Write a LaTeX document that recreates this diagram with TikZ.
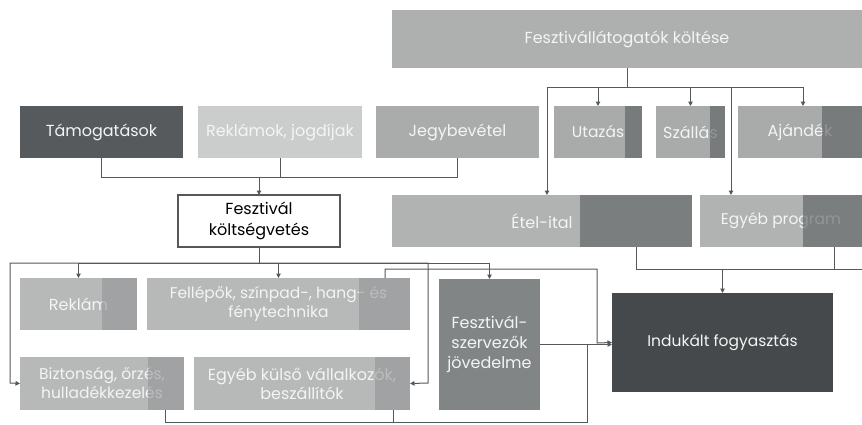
\documentclass[tikz,border=0pt]{standalone}
\usepackage{fontspec}
\setmainfont{Poppins}
\usetikzlibrary{arrows.meta}
\definecolor{cTam}{HTML}{565A5C}
\definecolor{cRekj}{HTML}{CBCDCD}
\definecolor{cJegy}{HTML}{AAACAC}
\definecolor{cTop}{HTML}{AEB0B0}
\definecolor{cMid}{HTML}{A9ABAB}
\definecolor{cMidS}{HTML}{5F6263}
\definecolor{cEtel}{HTML}{B1B3B3}
\definecolor{cLow}{HTML}{B7B9B9}
\definecolor{cLowS}{HTML}{8E9091}
\definecolor{cSzerv}{HTML}{828586}
\definecolor{cInd}{HTML}{46494B}
\definecolor{cLine}{HTML}{55585A}
\definecolor{cTxt}{HTML}{F4F4F4}
\tikzset{
  box/.style={rectangle, inner sep=0pt, outer sep=0pt, anchor=north west, align=center,
    text=cTxt, font=\fontsize{16}{19}\selectfont},
  darkstrip/.style={fill=cMidS, fill opacity=0.65},
  lowstrip/.style={fill=cLowS, fill opacity=0.55},
  conn/.style={draw=cLine, line width=1pt},
  arr/.style={conn, -{Triangle[length=4.5pt,width=4.5pt]}},
}
\begin{document}
\begin{tikzpicture}[x=1pt,y=-1pt]
\useasboundingbox[fill=white] (0,0) rectangle (862,424);
% top
\node[box, fill=cTop, minimum width=470pt, minimum height=58pt] (fl) at (392,10) {Fesztiválláto\-gatók költése};
% row 1
\node[box, fill=cTam, minimum width=163pt, minimum height=52pt] (tam) at (20,106) {Támogatások};
\node[box, fill=cRekj, minimum width=164pt, minimum height=52pt] (rekj) at (198,106) {Reklámok, jogdíjak};
\node[box, fill=cJegy, minimum width=163pt, minimum height=52pt] (jegy) at (376,106) {Jegybevétel};
\node[box, fill=cMid, minimum width=88pt, minimum height=52pt, font=\fontsize{15.5}{18}\selectfont] (utaz) at (554,106) {Utazás};
\node[box, fill=cMid, minimum width=69pt, minimum height=52pt] (szall) at (656,106) {Szállás};
\node[box, fill=cMid, minimum width=124pt, minimum height=52pt] (ajand) at (738,106) {Ajándék};
% row 2
\node[box, fill=white, draw=cLine, line width=1.2pt, text=black, minimum width=162pt, minimum height=52pt,
  font=\fontsize{16}{21}\selectfont] (budget) at (178,195) {Fesztivál\\költségvetés};
\node[box, fill=cEtel, minimum width=300pt, minimum height=52pt] (etel) at (392,195) {Étel-ital};
\node[box, fill=cEtel, minimum width=162pt, minimum height=52pt, font=\fontsize{15.5}{18}\selectfont] (egyebp) at (700,195) {Egyéb program};
% row 3
\node[box, fill=cLow, minimum width=117pt, minimum height=52pt] (reklam) at (20,278) {Reklám};
\node[box, fill=cLow, minimum width=263pt, minimum height=52pt, font=\fontsize{15.5}{19}\selectfont] (fellep) at (147,278) {Fellépők, színpad-, hang- és\\fénytechnika};
\node[box, fill=cLow, minimum width=164pt, minimum height=53pt, font=\fontsize{15.5}{19}\selectfont] (bizt) at (20,357) {Biztonság, őrzés,\\hulladékkezelés};
\node[box, fill=cLow, minimum width=216pt, minimum height=53pt] (egyebk) at (194,357) {Egyéb külső vállalkozók,\\beszállítók};
\node[box, fill=cSzerv, minimum width=101pt, minimum height=131pt, font=\fontsize{16}{20}\selectfont] (szerv) at (439,279) {Fesztivál-\\szervezők\\jövedelme};
\node[box, fill=cInd, minimum width=221pt, minimum height=99pt, font=\fontsize{15.5}{18}\selectfont] (induk) at (612,293) {Indukált fogyasztás};
% strips
\fill[darkstrip] ([xshift=-17pt]utaz.north east) rectangle (utaz.south east);
\fill[darkstrip] ([xshift=-15pt]szall.north east) rectangle (szall.south east);
\fill[darkstrip] ([xshift=-40pt]ajand.north east) rectangle (ajand.south east);
\fill[darkstrip] ([xshift=-112pt]etel.north east) rectangle (etel.south east);
\fill[darkstrip] ([xshift=-59pt]egyebp.north east) rectangle (egyebp.south east);
\fill[lowstrip] ([xshift=-35pt]reklam.north east) rectangle (reklam.south east);
\fill[lowstrip] ([xshift=-51pt]fellep.north east) rectangle (fellep.south east);
\fill[lowstrip] ([xshift=-36pt]bizt.north east) rectangle (bizt.south east);
\fill[lowstrip] ([xshift=-35pt]egyebk.north east) rectangle (egyebk.south east);
% top connectors
\coordinate (tb) at (0,87);
\draw[conn] (fl.south) -- (fl.south |- tb);
\draw[arr] (fl.south |- tb) -| (utaz.north);
\draw[arr] (fl.south |- tb) -| (szall.north);
\draw[arr] (fl.south |- tb) -| ([xshift=3pt]ajand.north);
\draw[arr] (fl.south |- tb) -| ([xshift=5pt]etel.north);
\draw[arr] (fl.south |- tb) -| ([xshift=-50pt]egyebp.north);
% income to budget
\coordinate (ib) at (0,177);
\draw[conn] (tam.south) |- (jegy.south |- ib) -- (jegy.south);
\draw[conn] (rekj.south) -- (rekj.south |- ib);
\draw[arr] (budget.north |- ib) -- (budget.north);
% budget to costs
\coordinate (bb) at (0,263);
\draw[conn] (budget.south) -- (budget.south |- bb);
\draw[arr] (budget.south |- bb) -| (reklam.north);
\draw[arr] (budget.south |- bb) -| (fellep.north);
\draw[arr] (budget.south |- bb) -| (szerv.north);
\draw[arr] (budget.south |- bb) -| (10,383) -- (bizt.west);
\draw[arr] (budget.south |- bb) -| (428,383) -- (egyebk.east);
% costs to induced consumption
\draw[arr] ([xshift=-25pt]fellep.north east) -- ++(0,-9) -| (597,343) -- (induk.west);
\draw[arr] (szerv.east) -- (szerv.east -| induk.west);
\draw[conn] ([xshift=-19pt]bizt.south east) -- ++(0,12) -| (587,344);
\draw[conn] ([xshift=-17pt]egyebk.south east) -- ++(0,12);
% visitors to induced consumption
\coordinate (vb) at (0,269);
\draw[conn] ([xshift=-56pt]etel.south east) |- (862,269);
\draw[conn] ([xshift=-28pt]egyebp.south east) -- ++(0,22);
\draw[arr] (induk.north |- vb) -- (induk.north);
\end{tikzpicture}
\end{document}
